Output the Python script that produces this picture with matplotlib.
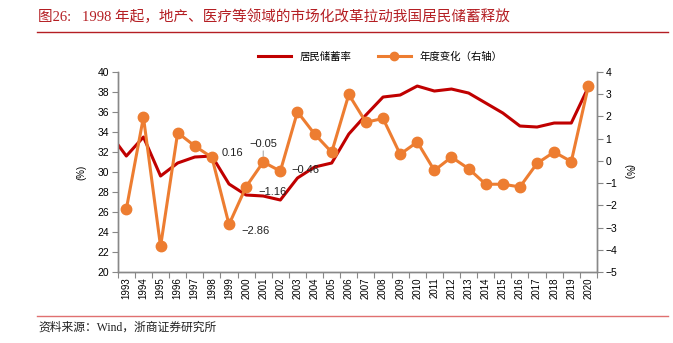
import matplotlib
matplotlib.use("Agg")
import matplotlib.pyplot as plt
from matplotlib.lines import Line2D
import numpy as np

plt.rcParams['font.family'] = ['Liberation Sans', 'Noto Sans CJK SC']

years = [str(y) for y in range(1993, 2021)]
# 居民储蓄率 (%), first entry is 1992 so the line enters from the left edge
savings_1992 = 33.9
savings = [31.6, 33.5, 29.6, 30.9, 31.5, 31.6, 28.8, 27.7, 27.6, 27.2,
           29.4, 30.5, 30.9, 33.8, 35.7, 37.5, 37.7, 38.6, 38.1, 38.3,
           37.9, 36.9, 35.9, 34.6, 34.5, 34.9, 34.9, 38.5]
# 年度变化 (右轴)
change = [-2.17, 1.97, -3.85, 1.27, 0.67, 0.16, -2.86, -1.16, -0.05, -0.46,
          2.21, 1.21, 0.39, 2.99, 1.74, 1.91, 0.30, 0.85, -0.43, 0.17,
          -0.35, -1.05, -1.05, -1.17, -0.11, 0.40, -0.03, 3.38]
labelled = {1998: (0.16, (7, 3)), 1999: (-2.86, (9, -5)), 2000: (-1.16, (9, -4)),
            2001: (-0.05, (-10, 13)), 2002: (-0.46, (8, 1))}

red = '#C00000'
orange = '#ED7D31'
title_red = '#B41E23'

fig = plt.figure(figsize=(6.73, 3.43), dpi=100)
ax = fig.add_axes([0.175, 0.207, 0.712, 0.583])
ax2 = ax.twinx()

x = np.arange(len(years))
ax.plot(np.r_[-1, x], [savings_1992] + savings, color=red, lw=2.2, zorder=3)
ax2.plot(x, change, color=orange, lw=2.2, marker='o', ms=7.5, zorder=3)
ax2.set_zorder(ax.get_zorder() + 1)
ax2.patch.set_visible(False)

for yr, (val, off) in labelled.items():
    ax2.annotate(f'{val:.2f}'.replace('-', '−'), (yr - 1993, val), xytext=off,
                 textcoords='offset points', fontsize=8, ha='left', va='center',
                 color='#222222')
# short leader under the 2001 label
ax2.annotate('', (2001 - 1993, -0.05), xytext=(0, 8), textcoords='offset points',
             arrowprops=dict(arrowstyle='-', color='#AAAAAA', lw=0.8, shrinkA=0, shrinkB=4))

ax.set_xlim(-0.5, len(years) - 0.5)
ax.set_ylim(20, 40)
ax2.set_ylim(-5, 4)
ax.set_yticks(range(20, 41, 2))
ax2.set_yticks(range(-5, 5))
ax2.set_yticklabels([str(v).replace('-', '−') for v in range(-5, 5)])

ax.set_xticks(x)
ax.set_xticklabels(years, rotation=90, fontsize=7)
ax.set_xticks(np.arange(-0.5, len(years)), minor=True)
ax.tick_params(axis='x', which='major', length=0, pad=4)
ax.tick_params(axis='x', which='minor', length=4, color='#888888', width=0.8)
ax.tick_params(axis='y', labelsize=7.5, length=4, color='#888888', width=0.8, pad=2)
ax2.tick_params(axis='y', labelsize=7.5, length=4, color='#888888', width=0.8, pad=2)

for a in (ax, ax2):
    a.spines['top'].set_visible(False)
    for s in ('left', 'right', 'bottom'):
        a.spines[s].set_color('#888888')
        a.spines[s].set_linewidth(1.0)

ax.set_ylabel('(%)', fontsize=7, labelpad=8)
ax2.set_ylabel('(%)', fontsize=7, rotation=270, labelpad=12)

handles = [Line2D([], [], color=red, lw=2.2),
           Line2D([], [], color=orange, lw=2.2, marker='o', ms=6)]
fig.legend(handles, ['居民储蓄率', '年度变化（右轴）'], loc='center',
           bbox_to_anchor=(0.565, 0.835), ncol=2, frameon=False, fontsize=7.5,
           handlelength=3.2, columnspacing=2.5)

serif = ['Liberation Serif', 'Noto Sans CJK SC']
fig.text(0.057, 0.95, '图26:   1998 年起，地产、医疗等领域的市场化改革拉动我国居民储蓄释放',
         fontsize=10.5, color=title_red, family=serif, va='center')
fig.add_artist(Line2D([0.055, 0.993], [0.908, 0.908], color=title_red, lw=1.0))
fig.add_artist(Line2D([0.055, 0.993], [0.079, 0.079], color='#E07070', lw=1.0))
fig.text(0.057, 0.044, '资料来源：Wind，浙商证券研究所', fontsize=8.5, color='#222222',
         family=serif, va='center')

fig.savefig('out.png', dpi=100)
